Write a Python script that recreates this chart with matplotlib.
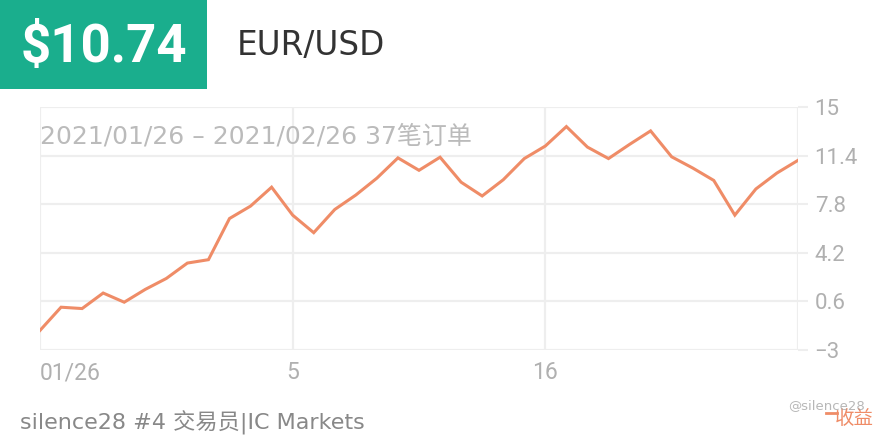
import matplotlib
matplotlib.use("Agg")
import matplotlib.pyplot as plt
from matplotlib.patches import Rectangle
from matplotlib.lines import Line2D

plt.rcParams['font.family'] = ['DejaVu Sans', 'Noto Sans CJK SC']

# Data
values = [-1.55, 0.17, 0.07, 1.22, 0.54, 1.49, 2.30, 3.44, 3.69, 6.74,
          7.66, 9.06, 6.99, 5.69, 7.41, 8.48, 9.73, 11.23, 10.31, 11.28,
          9.43, 8.41, 9.61, 11.18, 12.11, 13.55, 12.03, 11.18, 12.23, 13.23,
          11.31, 10.48, 9.56, 6.99, 8.93, 10.11, 11.05]
x_tick_pos = [0, 12, 24, 36]
x_tick_labels = ["01/26", "5", "16", ""]
y_ticks = [-3, 0.6, 4.2, 7.8, 11.4, 15]
y_tick_labels = ["\u22123", "0.6", "4.2", "7.8", "11.4", "15"]
headline = "$10.74"
symbol = "EUR/USD"
period = "2021/01/26 \u2013 2021/02/26 37笔订单"
footer = "silence28 #4 交易员|IC Markets"
legend_label = "收益"

W, H = 880, 440
fig = plt.figure(figsize=(W / 100, H / 100), dpi=100)
fig.patch.set_facecolor("white")

ax = fig.add_axes([40 / W, 1 - 350 / H, 758 / W, 243 / H])
ax.plot(range(len(values)), values, color="#ef8c67", lw=2.2, solid_joinstyle="miter", zorder=3)
ax.set_xlim(0, len(values) - 1)
ax.set_ylim(-3, 15)
ax.yaxis.tick_right()
ax.set_yticks(y_ticks)
ax.set_yticklabels(y_tick_labels)
ax.set_xticks(x_tick_pos)
ax.set_xticklabels(x_tick_labels)
ax.tick_params(axis="y", length=7, width=1.5, color="#eeeeee", labelcolor="#b0b0b0",
               labelsize=16, pad=5)
ax.tick_params(axis="x", length=0, labelcolor="#b0b0b0", labelsize=16.5, pad=8)
ax.grid(True, color="#eeeeee", lw=1.6)
for s in ax.spines.values():
    s.set_visible(False)
ax.axhline(-3, color="#eeeeee", lw=2, zorder=1)

for i, t in enumerate(ax.xaxis.get_major_ticks()):
    t.label1.set_family(["Roboto", "DejaVu Sans"])
    if i == 0:
        t.label1.set_ha("left")
for t in ax.yaxis.get_major_ticks():
    t.label2.set_family(["Roboto", "DejaVu Sans"])

# Header
fig.patches.append(Rectangle((0, 1 - 89 / H), 207 / W, 89 / H, transform=fig.transFigure,
                             facecolor="#1aae8d", edgecolor="none"))
fig.text(104 / W, 1 - 47 / H, headline, color="white", fontsize=38, fontweight="bold",
         family=["Roboto", "DejaVu Sans"], ha="center", va="center")
fig.text(237 / W, 1 - 46 / H, symbol, color="#333333", fontsize=23.5,
         family=["DejaVu Sans"], ha="left", va="center")

# Period text
fig.text(40 / W, 1 - 137 / H, period, color="#bbbbbb", fontsize=18, ha="left", va="center")

# Footer
fig.text(20 / W, 1 - 423 / H, footer, color="#888888", fontsize=16, ha="left", va="center")
fig.lines.append(Line2D([826 / W, 837 / W], [1 - 413 / H, 1 - 413 / H], transform=fig.transFigure,
                        color="#ef8c67", lw=2))
fig.text(854 / W, 1 - 418 / H, legend_label, color="#ef8c67", fontsize=14,
         family=["Noto Sans CJK SC"], ha="center", va="center")
fig.text(826 / W, 1 - 406 / H, "@silence28", color="#999999", fontsize=9.5, ha="center",
         va="center", alpha=0.7)

fig.savefig("out.png", dpi=100, facecolor="white")
